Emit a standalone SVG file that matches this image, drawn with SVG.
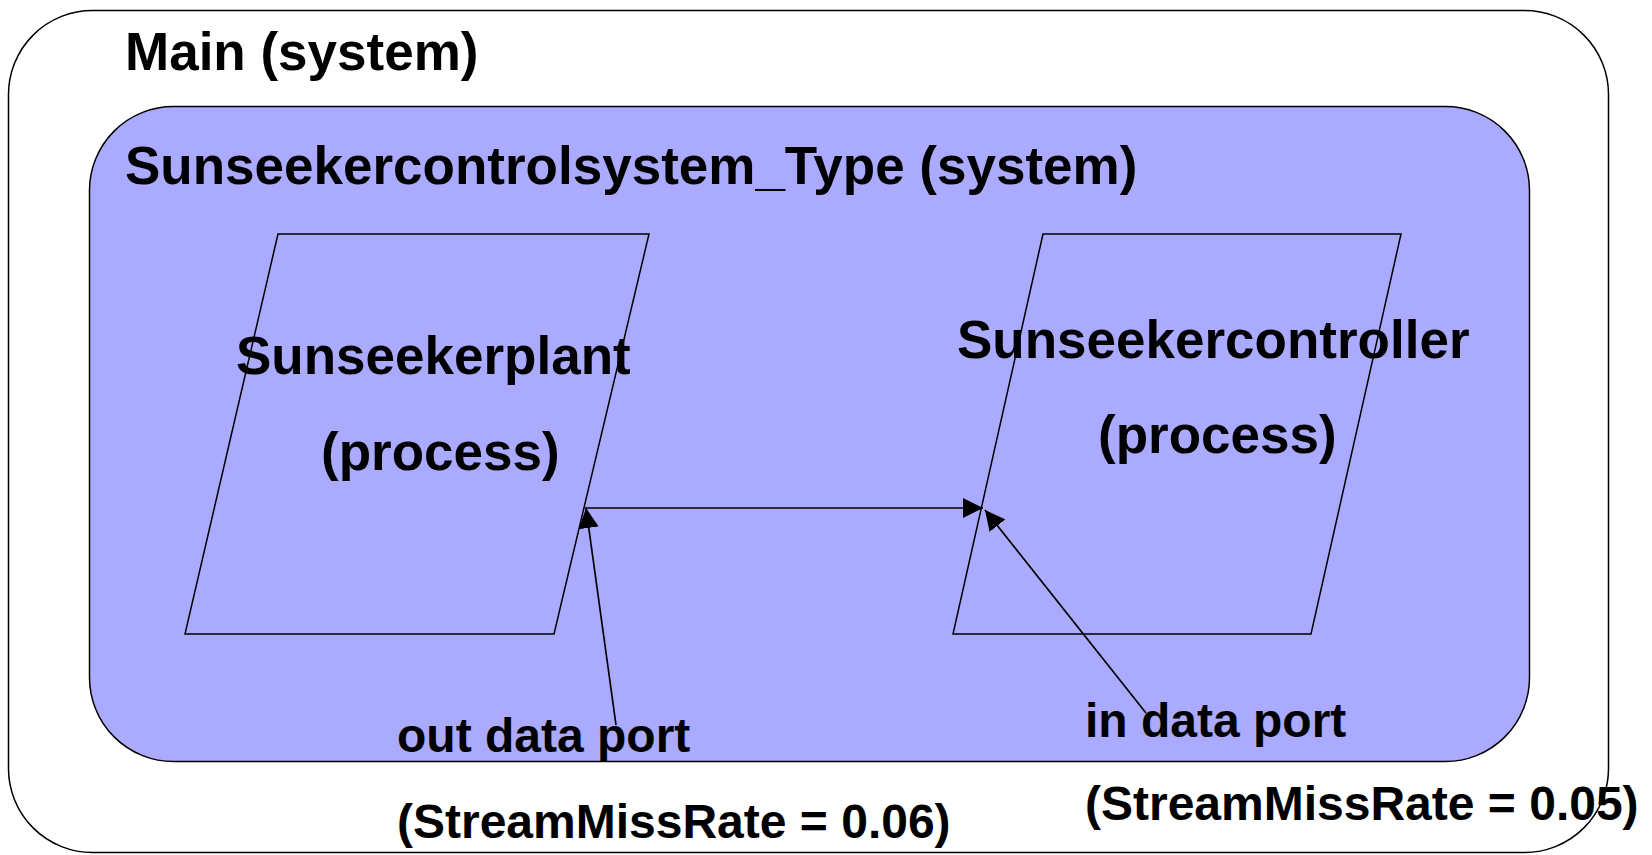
<svg xmlns="http://www.w3.org/2000/svg" width="1652" height="855" viewBox="0 0 1652 855">
  <style>
    .box { stroke: #000; stroke-width: 1.5; }
    .proc { fill: none; stroke: #000; stroke-width: 1.5; }
    .title { font-family: "Liberation Sans", Arial, sans-serif; font-weight: bold; font-size: 53px; fill: #000; }
    .port { font-family: "Liberation Sans", Arial, sans-serif; font-weight: bold; font-size: 48px; fill: #000; }
    .conn { fill: none; stroke: #000; stroke-width: 1.7; }
  </style>
  <defs>
    <marker id="arrow" viewBox="0 0 20 20" refX="20" refY="10" markerWidth="20" markerHeight="20" markerUnits="userSpaceOnUse" orient="auto">
      <path d="M0,0 L20,10 L0,20 Z" fill="#000"/>
    </marker>
  </defs>
  <rect width="1652" height="855" fill="#fff"/>

  <g id="main">
    <rect class="box" x="8.5" y="10.5" width="1600" height="842" rx="84" ry="84" fill="#fff"/>
    <text class="title" x="125" y="70">Main (system)</text>
  </g>

  <g id="controlsystem">
    <rect class="box" x="89.5" y="106.5" width="1440" height="655" rx="84" ry="84" fill="#AAAAFF"/>
    <text class="title" x="125" y="184">Sunseekercontrolsystem_Type (system)</text>
  </g>

  <g id="plant">
    <polygon class="proc" points="278,234 649,234 554,634 185,634"/>
    <text class="title" x="236" y="374">Sunseekerplant</text>
    <text class="title" x="321" y="470">(process)</text>
  </g>

  <g id="controller">
    <polygon class="proc" points="1043,234 1401,234 1311,634 953,634"/>
    <text class="title" x="957" y="358">Sunseekercontroller</text>
    <text class="title" x="1098" y="453">(process)</text>
  </g>

  <g id="connectors">
    <line class="conn" x1="585" y1="508" x2="983" y2="508" marker-end="url(#arrow)"/>
    <line class="conn" x1="616" y1="725" x2="586" y2="508" marker-end="url(#arrow)"/>
    <line class="conn" x1="1146" y1="713" x2="985" y2="510" marker-end="url(#arrow)"/>
  </g>

  <g id="out-port-label">
    <text class="port" x="397" y="752">out data port</text>
    <text class="port" x="397" y="838">(StreamMissRate = 0.06)</text>
  </g>

  <g id="in-port-label">
    <text class="port" x="1085" y="737">in data port</text>
    <text class="port" x="1085" y="820">(StreamMissRate = 0.05)</text>
  </g>
</svg>
